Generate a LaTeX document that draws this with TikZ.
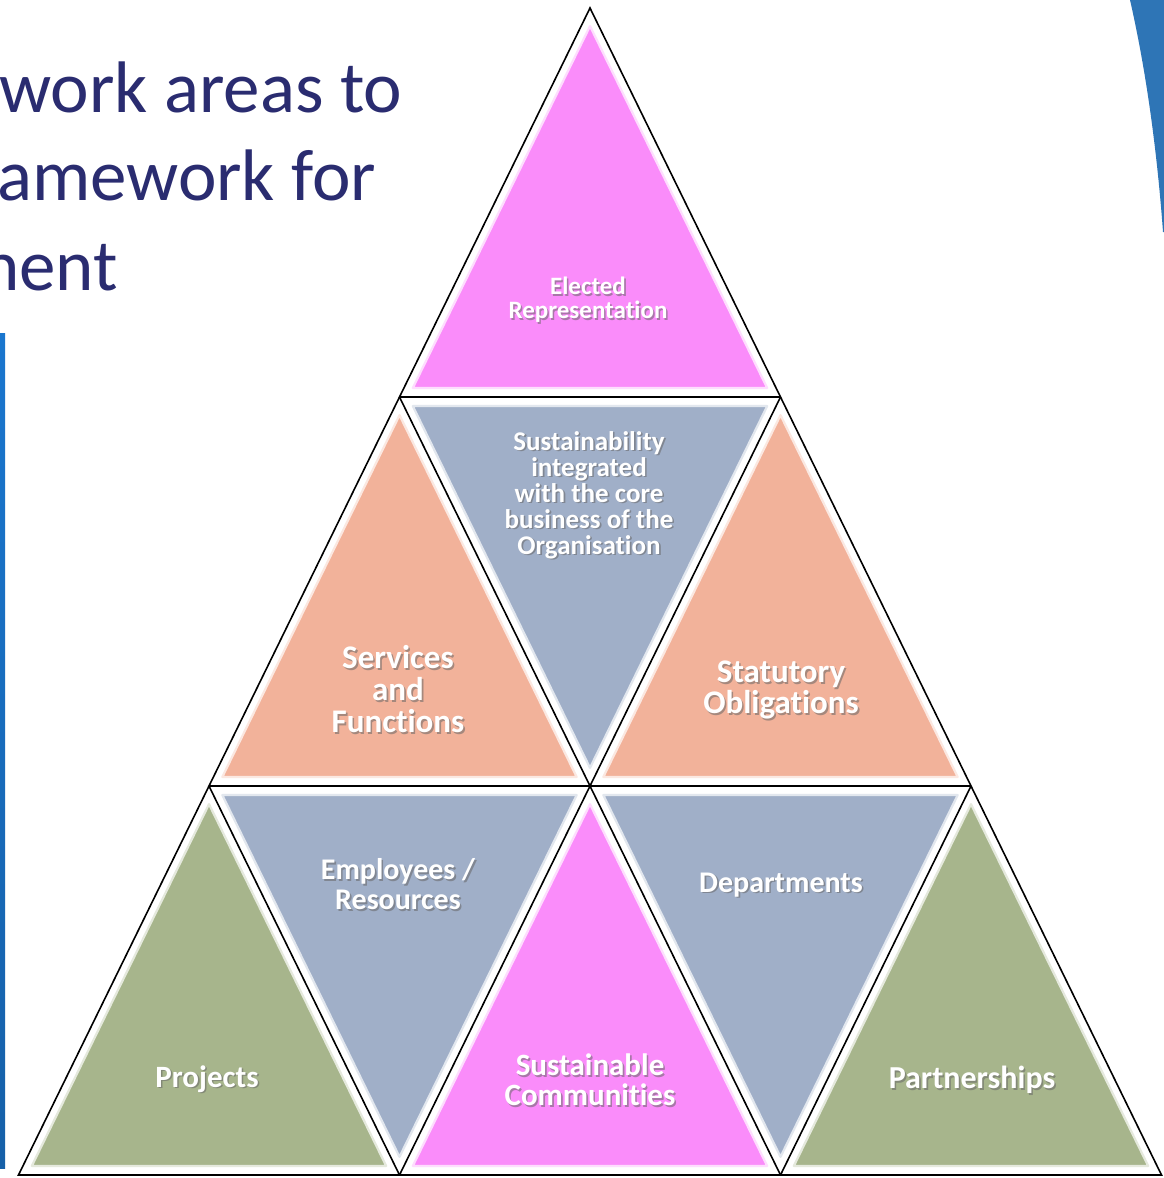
\documentclass[tikz,border=0pt]{standalone}
\usepackage{fontspec}
\setmainfont[Ligatures=NoCommon]{Carlito}
\usetikzlibrary{calc}
\definecolor{titleblue}{RGB}{42,44,112}
\definecolor{bartop}{RGB}{26,118,206}
\definecolor{barbot}{RGB}{22,96,168}
\definecolor{curveblue}{RGB}{46,117,182}
\definecolor{pinkf}{RGB}{250,140,250}
\definecolor{peachf}{RGB}{242,178,154}
\definecolor{bluef}{RGB}{160,175,200}
\definecolor{greenf}{RGB}{167,181,140}
\tikzset{
  gridline/.style={draw=black, line width=1.6pt, line join=miter},
  lbl/.style={text=white, align=center, inner sep=0pt},
  txtshadow/.style={text=black!60, opacity=0.55, align=center, inner sep=0pt},
  titletext/.style={text=titleblue, font=\fontsize{73}{89}\selectfont, inner sep=0pt, anchor=base west},
}
\newcommand\facet[4]{%
  \coordinate (cen) at ($($(#2)!0.5!(#3)$)!0.33333!(#1)$);
  \fill[#4, draw=#4!30!white, line width=2.2pt, line join=round]
    ($(cen)!0.93!(#1)$) -- ($(cen)!0.93!(#2)$) -- ($(cen)!0.93!(#3)$) -- cycle;}
\newcommand\tlabel[5]{% name, position, size, skip, text
  \node[txtshadow, font=\fontsize{#3}{#4}\selectfont\bfseries] at ($(#2)+(1.6,1.6)$) {#5};
  \node[lbl, font=\fontsize{#3}{#4}\selectfont\bfseries] (#1) at (#2) {#5};}
\begin{document}
\begin{tikzpicture}[x=1pt, y=-1pt]
\useasboundingbox (0,0) rectangle (1164,1178);
\clip (0,0) rectangle (1164,1178);
\fill[white] (0,0) rectangle (1164,1178);
% title
\node[titletext] (t1) at (-1,112) {work areas to};
\node[titletext] (t2) at (-3,200) {amework for};
\node[titletext] (t3) at (-19,290) {nent};
% decorative blue shapes
\shade[top color=bartop, bottom color=barbot] (0,333) rectangle (5,1168);
\fill[curveblue] (1130,0) .. controls (1146,70) and (1157,150) .. (1163,232) -- (1164,232) -- (1164,0) -- cycle;
% pyramid vertices
\coordinate (A) at (590,8);
\coordinate (B1) at (399.5,397);
\coordinate (B2) at (780.5,397);
\coordinate (C1) at (209,786);
\coordinate (C2) at (590,786);
\coordinate (C3) at (971,786);
\coordinate (D1) at (18.5,1175);
\coordinate (D2) at (399.5,1175);
\coordinate (D3) at (780.5,1175);
\coordinate (D4) at (1161.5,1175);
% facets
\facet{A}{B1}{B2}{pinkf}
\facet{B1}{C1}{C2}{peachf}
\facet{C2}{B1}{B2}{bluef}
\facet{B2}{C2}{C3}{peachf}
\facet{C1}{D1}{D2}{greenf}
\facet{D2}{C1}{C2}{bluef}
\facet{C2}{D2}{D3}{pinkf}
\facet{D3}{C2}{C3}{bluef}
\facet{C3}{D3}{D4}{greenf}
% grid lines
\draw[gridline] (A) -- (D1) -- (D4) -- cycle;
\draw[gridline] (B1) -- (B2);
\draw[gridline] (C1) -- (C3);
\draw[gridline] (B1) -- (D3);
\draw[gridline] (B2) -- (D2);
\draw[gridline] (C1) -- (D2);
\draw[gridline] (C3) -- (D3);
% labels
\tlabel{elected}{588,300}{25}{24}{Elected\\Representation}
\tlabel{sustain}{589,495}{27}{26}{Sustainability\\integrated\\with the core\\business of the\\Organisation}
\tlabel{services}{398,689}{33}{32}{Services\\and\\Functions}
\tlabel{statutory}{781,690}{33}{31}{Statutory\\Obligations}
\tlabel{employees}{398,884}{30}{30}{Employees /\\Resources}
\tlabel{departments}{781,885}{30}{30}{Departments}
\tlabel{projects}{207,1079}{31}{31}{Projects}
\tlabel{communities}{590,1080}{31}{30}{Sustainable\\Communities}
\tlabel{partnerships}{972,1080}{32}{32}{Partnerships}
\end{tikzpicture}
\end{document}
